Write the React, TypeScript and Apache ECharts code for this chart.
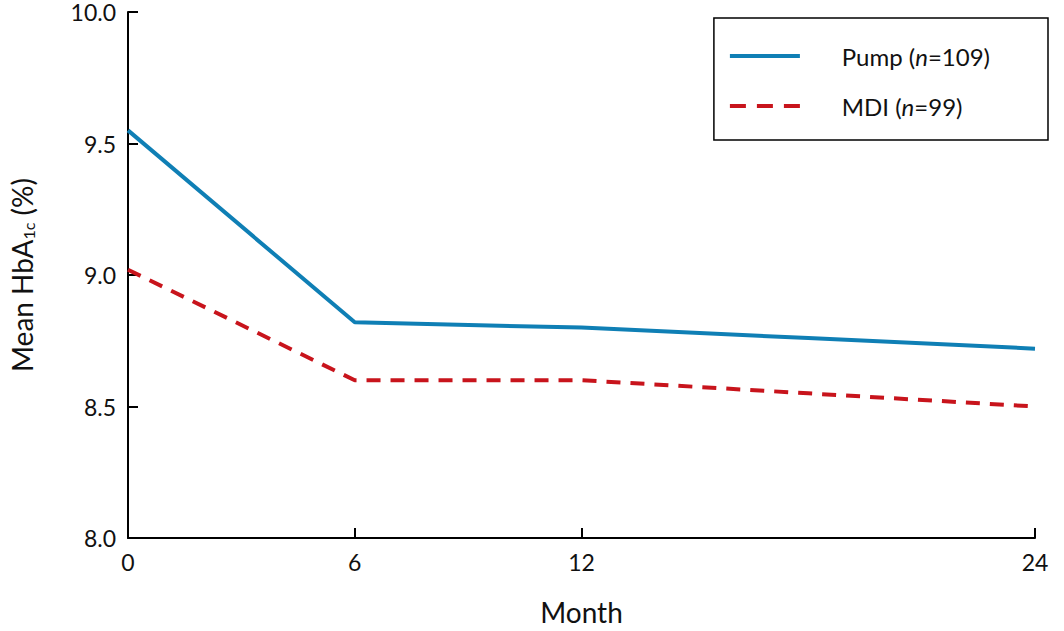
import { useEffect, useRef } from 'react'
import * as echarts from 'echarts'

const months = [0, 6, 12, 18, 24]
const pump = [9.55, 8.82, 8.8, 8.76, 8.72]
const mdi = [9.02, 8.6, 8.6, 8.55, 8.5]
const xTicks = [0, 6, 12, 24]

const font = 'Lato, "Noto Sans", sans-serif'

const App = () => {
  const chartRef = useRef<HTMLDivElement>(null)

  useEffect(() => {
    document.body.style.margin = '0'
    if (!chartRef.current) return
    const chart = echarts.init(chartRef.current, null, { renderer: 'svg' })

    chart.setOption({
      animation: false,
      grid: { left: 125, right: 29, top: 12, bottom: 88 },
      textStyle: { fontFamily: font },
      legend: {
        orient: 'vertical',
        right: 16,
        top: 18,
        padding: [26, 58, 22, 16],
        borderColor: '#000',
        borderWidth: 1.5,
        borderRadius: 0,
        itemWidth: 70,
        itemHeight: 4,
        itemGap: 26,
        textStyle: {
          fontSize: 24,
          color: '#111',
          fontFamily: font,
          rich: {
            a: { fontSize: 24, color: '#111', fontFamily: font },
            i: { fontSize: 24, color: '#111', fontFamily: font, fontStyle: 'italic' }
          }
        },
        formatter: (name: string) =>
          name === 'Pump' ? '      {a|Pump (}{i|n}{a|=109)}' : '      {a|MDI (}{i|n}{a|=99)}',
        data: [
          { name: 'Pump', icon: 'path://M0,0H70V4H0Z' },
          { name: 'MDI', icon: 'path://M0,0H16V4H0Z M27,0H43V4H27Z M54,0H70V4H54Z' }
        ]
      },
      xAxis: {
        type: 'value',
        min: 0,
        max: 24,
        interval: 6,
        name: 'Month',
        nameLocation: 'middle',
        nameGap: 60,
        nameTextStyle: { fontSize: 28, color: '#111' },
        axisLine: { lineStyle: { color: '#000', width: 2 } },
        axisTick: { inside: true, length: 10, lineStyle: { color: '#000', width: 2 }, customValues: xTicks },
        axisLabel: { fontSize: 23, color: '#111', margin: 12, customValues: xTicks },
        splitLine: { show: false }
      },
      yAxis: {
        type: 'value',
        min: 8,
        max: 10,
        interval: 0.5,
        name: '{a|Mean HbA}{s|1c}{a| (%)}',
        nameLocation: 'middle',
        nameRotate: 90,
        nameGap: 92,
        nameTextStyle: {
          rich: {
            a: { fontSize: 28, color: '#111', fontFamily: font },
            s: { fontSize: 16, color: '#111', fontFamily: font, verticalAlign: 'bottom', padding: [12, 0, 0, 0] }
          }
        },
        axisLine: { lineStyle: { color: '#000', width: 2 } },
        axisTick: { inside: true, length: 10, lineStyle: { color: '#000', width: 2 } },
        axisLabel: { fontSize: 23, color: '#111', margin: 12, formatter: (v: number) => v.toFixed(1) },
        splitLine: { show: false }
      },
      series: [
        {
          name: 'Pump',
          type: 'line',
          data: months.map((m, i) => [m, pump[i]]),
          symbol: 'none',
          itemStyle: { color: '#0f7fb5' },
          lineStyle: { color: '#0f7fb5', width: 4 }
        },
        {
          name: 'MDI',
          type: 'line',
          data: months.map((m, i) => [m, mdi[i]]),
          symbol: 'none',
          itemStyle: { color: '#c8141c' },
          lineStyle: { color: '#c8141c', width: 4, type: [14, 10] }
        }
      ]
    })

    return () => chart.dispose()
  }, [])

  return <div ref={chartRef} style={{ width: 1064, height: 631 }} />
}

export default App
